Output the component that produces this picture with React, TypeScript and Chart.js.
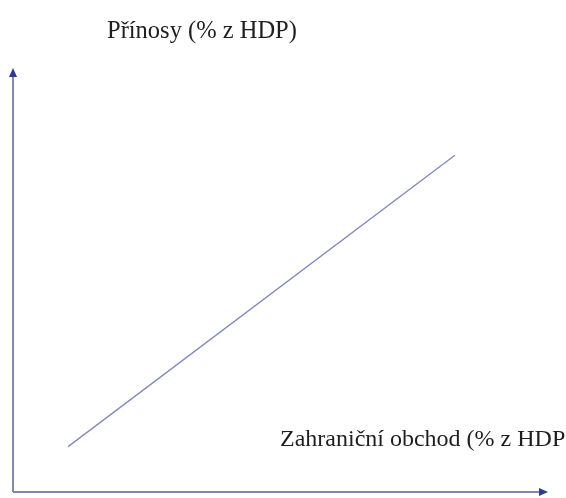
import React, { useEffect, useRef } from "react";
import { Chart, registerables } from "chart.js";

Chart.register(...registerables);

const xValues = [10.3, 82.6];
const yValues = [10.7, 79.4];
const yAxisTitle = "Přínosy (% z HDP)";
const xAxisTitle = "Zahraniční obchod (% z HDP";

const axisPlugin = {
  id: "axisArrows",
  afterDraw(chart: any) {
    const { ctx } = chart;
    const xs = chart.scales.x;
    const ys = chart.scales.y;
    const x0 = xs.getPixelForValue(0);
    const y0 = ys.getPixelForValue(0);
    const xEnd = xs.getPixelForValue(100);
    const yEnd = ys.getPixelForValue(100);
    ctx.save();
    ctx.strokeStyle = "#8489ad";
    ctx.lineWidth = 2;
    ctx.beginPath();
    ctx.moveTo(x0, y0);
    ctx.lineTo(x0, yEnd + 6);
    ctx.moveTo(x0, y0);
    ctx.lineTo(xEnd - 6, y0);
    ctx.stroke();
    ctx.fillStyle = "#2c3a94";
    ctx.beginPath();
    ctx.moveTo(x0, yEnd);
    ctx.lineTo(x0 - 4, yEnd + 9);
    ctx.lineTo(x0 + 4, yEnd + 9);
    ctx.closePath();
    ctx.fill();
    ctx.beginPath();
    ctx.moveTo(xEnd, y0);
    ctx.lineTo(xEnd - 9, y0 - 4);
    ctx.lineTo(xEnd - 9, y0 + 4);
    ctx.closePath();
    ctx.fill();
    ctx.fillStyle = "#1e1e1e";
    ctx.textBaseline = "alphabetic";
    ctx.textAlign = "left";
    ctx.font = "24.5px 'Liberation Serif', 'Times New Roman', serif";
    ctx.fillText(yAxisTitle, 107, 38);
    ctx.font = "24px 'Liberation Serif', 'Times New Roman', serif";
    ctx.fillText(xAxisTitle, 280, 446);
    ctx.restore();
  },
};

export default function App() {
  const ref = useRef<HTMLCanvasElement>(null);
  useEffect(() => {
    if (!ref.current) return;
    const chart = new Chart(ref.current, {
      type: "line",
      data: {
        datasets: [
          {
            data: xValues.map((x, i) => ({ x, y: yValues[i] })),
            borderColor: "#7f88bb",
            borderWidth: 1.3,
            pointRadius: 0,
            fill: false,
          },
        ],
      },
      options: {
        responsive: false,
        animation: false,
        layout: { padding: { left: 13, right: 18, top: 68, bottom: 6 } },
        plugins: { legend: { display: false }, tooltip: { enabled: false }, title: { display: false } },
        scales: {
          x: { type: "linear", min: 0, max: 100, display: false },
          y: { type: "linear", min: 0, max: 100, display: false },
        },
      },
      plugins: [axisPlugin],
    });
    return () => chart.destroy();
  }, []);
  return (
    <div style={{ position: "fixed", left: 0, top: 0, width: 566, height: 498, background: "#fff" }}>
      <canvas ref={ref} width={566} height={498} style={{ width: 566, height: 498, display: "block" }} />
    </div>
  );
}
